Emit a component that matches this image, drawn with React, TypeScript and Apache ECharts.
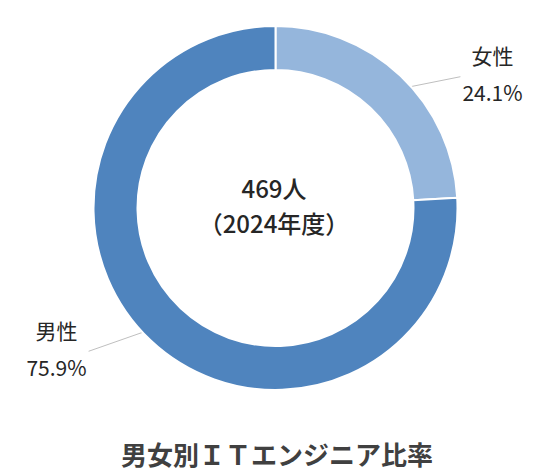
import { useEffect, useRef } from 'react'
import * as echarts from 'echarts'

// data
const categories = ['女性', '男性']
const ratios = [24.1, 75.9]
const centerLines = ['469人', '（2024年度）']
const chartTitle = '男女別ＩＴエンジニア比率'

const sliceColors = ['#95b6dc', '#4f84be']
const FONT = '"Noto Sans CJK JP", "Noto Sans", sans-serif'

const WIDTH = 554
const HEIGHT = 474
const CX = 275.5
const CY = 208
const R_IN = 138
const R_OUT = 182
const CENTER_LINE_GAP = 35
// end of each label line, relative to the middle of the ring for that slice
const lineOffsets = [
  [75, -15],
  [-77, 27],
]

export default function App() {
  const ref = useRef<HTMLDivElement>(null)

  useEffect(() => {
    if (!ref.current) return
    document.body.style.margin = '0'
    const chart = echarts.init(ref.current, null, { renderer: 'svg' })

    const total = ratios.reduce((a, b) => a + b, 0)
    const rm = (R_IN + R_OUT) / 2

    chart.setOption({
      animation: false,
      textStyle: { fontFamily: FONT },
      title: {
        text: chartTitle,
        left: 'center',
        top: 440,
        padding: 0,
        textStyle: { fontFamily: FONT, fontSize: 26, fontWeight: 'bold', color: '#404040' },
      },
      graphic: centerLines.map((text, i) => ({
        type: 'text',
        x: CX - 1.5,
        y: CY - 3 + (i - (centerLines.length - 1) / 2) * CENTER_LINE_GAP,
        style: {
          text,
          align: 'center',
          verticalAlign: 'middle',
          fontFamily: FONT,
          fontSize: 24,
          fontWeight: 500,
          fill: '#262626',
        },
      })),
      series: [
        {
          type: 'pie',
          silent: true,
          center: [CX, CY],
          radius: [R_IN, R_OUT],
          startAngle: 90,
          clockwise: true,
          itemStyle: { borderColor: '#ffffff', borderWidth: 2 },
          label: {
            show: true,
            position: 'outside',
            formatter: '{n|{b}}\n{v|{c}%}',
            rich: {
              n: { fontFamily: FONT, fontSize: 21, lineHeight: 37, align: 'center', color: '#262626' },
              v: { fontFamily: FONT, fontSize: 21, lineHeight: 37, align: 'center', color: '#262626' },
            },
          },
          labelLine: {
            show: true,
            showAbove: true,
            lineStyle: { color: '#bfbfbf', width: 1 },
          },
          labelLayout: (params: any) => {
            const i = params.dataIndex
            const before = ratios.slice(0, i).reduce((a, b) => a + b, 0)
            const mid = ((before + ratios[i] / 2) / total) * Math.PI * 2
            const ax = CX + rm * Math.sin(mid)
            const ay = CY - rm * Math.cos(mid)
            const ex = ax + lineOffsets[i][0]
            const ey = ay + lineOffsets[i][1]
            const right = Math.sin(mid) > 0
            return {
              x: right ? ex + 2 : ex - 2,
              y: ey - 3,
              align: right ? 'left' : 'right',
              verticalAlign: 'middle',
              labelLinePoints: [
                [ax, ay],
                [ex, ey],
              ],
            }
          },
          data: categories.map((name, i) => ({
            name,
            value: ratios[i],
            itemStyle: { color: sliceColors[i] },
          })),
        },
      ],
    })

    return () => {
      chart.dispose()
    }
  }, [])

  return <div ref={ref} style={{ width: WIDTH, height: HEIGHT }} />
}
